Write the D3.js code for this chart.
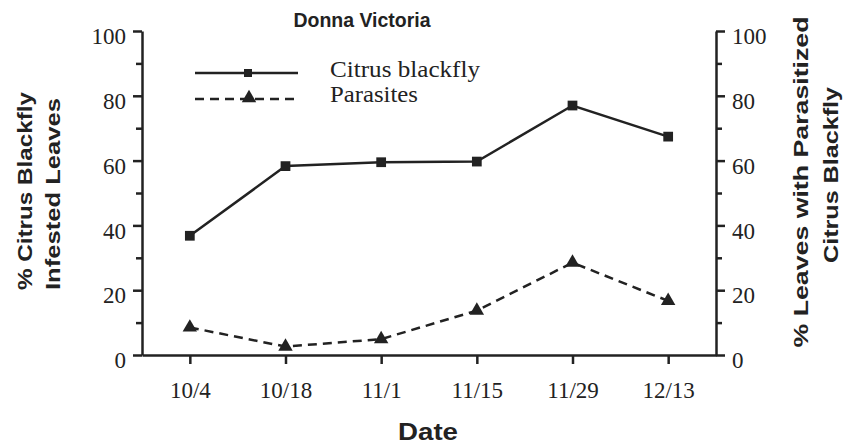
<!DOCTYPE html>
<html>
<head>
<meta charset="utf-8">
<script src="https://cdn.jsdelivr.net/npm/d3@7"></script>
<style>
  body { margin: 0; background: #fff; }
  svg { display: block; }
</style>
</head>
<body>
<div id="chart"></div>
<script>
const fig_width = 843
const fig_height = 447

// values (percent)
const dates = ['10/4', '10/18', '11/1', '11/15', '11/29', '12/13']
const blackfly = [36.8, 58.3, 59.5, 59.7, 77.0, 67.4]
const parasites = [8.5, 2.6, 4.9, 13.7, 28.5, 16.7]
const major_ticks = [0, 20, 40, 60, 80, 100]
const minor_ticks = [10, 30, 50, 70, 90]

const ink = '#222'
const serif = "'Liberation Serif', 'Times New Roman', serif"
const sans = "'Liberation Sans', Arial, sans-serif"

// plot frame
const plot_left = 142, plot_right = 716, plot_top = 31, plot_bottom = 355

let x = d3.scalePoint()
    .domain(dates)
    .range([plot_left, plot_right])
    .padding(0.5)

let y = d3.scaleLinear()
    .domain([0, 100])
    .range([plot_bottom, plot_top])

let fig = d3.select('#chart')
    .append('svg')
    .attr('width', fig_width)
    .attr('height', fig_height)

function styleAxis(g) {
    g.selectAll('path, line').attr('stroke', ink).attr('stroke-width', 2.5)
    g.selectAll('text')
        .attr('fill', ink)
        .style('font-family', serif)
        .style('font-size', '23px')
}

// left axis
fig.append('g')
    .attr('transform', `translate(${plot_left},0)`)
    .call(d3.axisLeft(y).tickValues(major_ticks).tickSize(9).tickSizeOuter(0).tickPadding(7))
    .call(styleAxis)
    .call(g => g.selectAll('text').attr('dy', '0.55em'))
fig.append('g')
    .attr('transform', `translate(${plot_left},0)`)
    .call(d3.axisLeft(y).tickValues(minor_ticks).tickSize(6).tickFormat(''))
    .call(styleAxis)
    .call(g => g.select('.domain').remove())

// right axis
fig.append('g')
    .attr('transform', `translate(${plot_right},0)`)
    .call(d3.axisRight(y).tickValues(major_ticks).tickSize(9).tickSizeOuter(0).tickPadding(7))
    .call(styleAxis)
    .call(g => g.selectAll('text').attr('dy', '0.55em'))
fig.append('g')
    .attr('transform', `translate(${plot_right},0)`)
    .call(d3.axisRight(y).tickValues(minor_ticks).tickSize(6).tickFormat(''))
    .call(styleAxis)
    .call(g => g.select('.domain').remove())

// bottom axis
fig.append('g')
    .attr('transform', `translate(0,${plot_bottom})`)
    .call(d3.axisBottom(x).tickSize(9).tickSizeOuter(0))
    .call(styleAxis)
    .call(g => g.selectAll('text').attr('y', 43).attr('dy', 0))

// series lines
let line = d3.line()
    .x((d, i) => x(dates[i]))
    .y(d => y(d))

fig.append('path')
    .datum(blackfly)
    .attr('d', line)
    .attr('fill', 'none')
    .attr('stroke', ink)
    .attr('stroke-width', 2.5)

fig.append('path')
    .datum(parasites)
    .attr('d', line)
    .attr('fill', 'none')
    .attr('stroke', ink)
    .attr('stroke-width', 2.5)
    .attr('stroke-dasharray', '9,6')

let square = d3.symbol().type(d3.symbolSquare).size(95)
let triangle = d3.symbol().type(d3.symbolTriangle).size(90)

fig.selectAll('path.sq')
    .data(blackfly)
    .join('path')
    .attr('class', 'sq')
    .attr('d', square)
    .attr('transform', (d, i) => `translate(${x(dates[i])},${y(d)})`)
    .attr('fill', ink)

fig.selectAll('path.tri')
    .data(parasites)
    .join('path')
    .attr('class', 'tri')
    .attr('d', triangle)
    .attr('transform', (d, i) => `translate(${x(dates[i])},${y(d)})`)
    .attr('fill', ink)

// legend
let legend = fig.append('g')
legend.append('line')
    .attr('x1', 195).attr('x2', 298).attr('y1', 73).attr('y2', 73)
    .attr('stroke', ink).attr('stroke-width', 2.5)
legend.append('path')
    .attr('d', d3.symbol().type(d3.symbolSquare).size(64))
    .attr('transform', 'translate(248,73)')
    .attr('fill', ink)
legend.append('line')
    .attr('x1', 195).attr('x2', 298).attr('y1', 99).attr('y2', 99)
    .attr('stroke', ink).attr('stroke-width', 2.5)
    .attr('stroke-dasharray', '9,6')
legend.append('path')
    .attr('d', triangle)
    .attr('transform', 'translate(249,98)')
    .attr('fill', ink)
legend.append('text')
    .attr('x', 330).attr('y', 77)
    .attr('textLength', 150).attr('lengthAdjust', 'spacingAndGlyphs')
    .style('font-family', serif).style('font-size', '23px').attr('fill', ink)
    .text('Citrus blackfly')
legend.append('text')
    .attr('x', 330).attr('y', 102)
    .attr('textLength', 88).attr('lengthAdjust', 'spacingAndGlyphs')
    .style('font-family', serif).style('font-size', '23px').attr('fill', ink)
    .text('Parasites')

// title and axis titles
fig.append('text')
    .attr('x', 362).attr('y', 27)
    .attr('text-anchor', 'middle')
    .attr('textLength', 137).attr('lengthAdjust', 'spacingAndGlyphs')
    .style('font-family', sans).style('font-size', '20px').style('font-weight', 'bold')
    .attr('fill', ink)
    .text('Donna Victoria')

fig.append('text')
    .attr('x', 428).attr('y', 440)
    .attr('text-anchor', 'middle')
    .attr('textLength', 60).attr('lengthAdjust', 'spacingAndGlyphs')
    .style('font-family', sans).style('font-size', '23px').style('font-weight', 'bold')
    .attr('fill', ink)
    .text('Date')

let axisTitles = [
    {text: '% Citrus Blackfly', cx: 24, cy: 191, len: 198, rot: -90},
    {text: 'Infested Leaves', cx: 52, cy: 194, len: 192, rot: -90},
    {text: '% Leaves with Parasitized', cx: 800, cy: 182, len: 331, rot: -90},
    {text: 'Citrus Blackfly', cx: 830, cy: 175, len: 176, rot: -90}
]

fig.selectAll('text.ytitle')
    .data(axisTitles)
    .join('text')
    .attr('class', 'ytitle')
    .attr('transform', d => `translate(${d.cx},${d.cy}) rotate(${d.rot})`)
    .attr('text-anchor', 'middle')
    .attr('dy', '0.36em')
    .attr('textLength', d => d.len).attr('lengthAdjust', 'spacingAndGlyphs')
    .style('font-family', sans).style('font-size', '21px').style('font-weight', 'bold')
    .attr('fill', ink)
    .text(d => d.text)
</script>
</body>
</html>
